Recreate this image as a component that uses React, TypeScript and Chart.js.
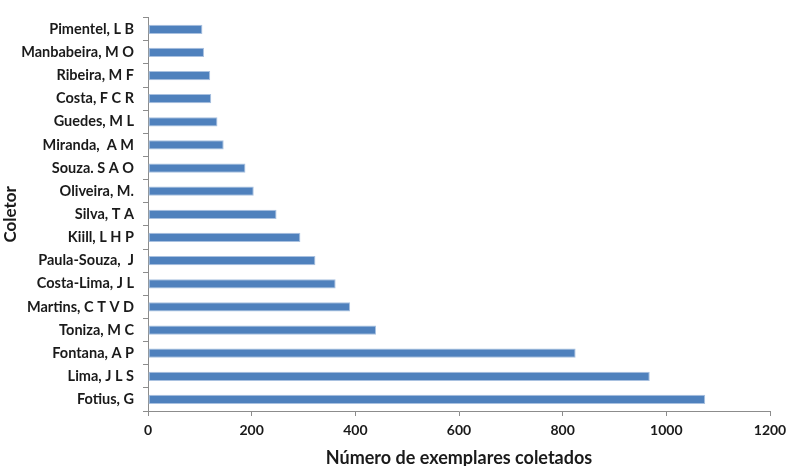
import React, { useEffect, useRef } from "react";
import { Chart, registerables } from "chart.js";

Chart.register(...registerables);

const collectors = [
  "Pimentel, L B",
  "Manbabeira, M O",
  "Ribeira, M F",
  "Costa, F C R",
  "Guedes, M L",
  "Miranda,  A M",
  "Souza. S A O",
  "Oliveira, M.",
  "Silva, T A",
  "Kiill, L H P",
  "Paula-Souza,  J",
  "Costa-Lima, J L",
  "Martins, C T V D",
  "Toniza, M C",
  "Fontana, A P",
  "Lima, J L S",
  "Fotius, G",
];

const specimens = [105, 108, 120, 122, 134, 146, 188, 204, 248, 294, 323, 362, 390, 440, 825, 968, 1075];

const xTitle = "Número de exemplares coletados";
const yTitle = "Coletor";

export default function App() {
  const canvasRef = useRef<HTMLCanvasElement | null>(null);

  useEffect(() => {
    document.body.style.margin = "0";
    const canvas = canvasRef.current;
    if (!canvas) return;
    const font = "Lato, 'Open Sans', sans-serif";
    const axisColor = "#8c8c8c";
    const textColor = "#1a1a1a";
    const chart = new Chart(canvas, {
      type: "bar",
      data: {
        labels: collectors,
        datasets: [
          {
            data: specimens,
            backgroundColor: "#4f81bd",
            borderColor: "#a9c1e0",
            borderWidth: 1,
            borderSkipped: false,
            categoryPercentage: 1,
            barPercentage: 0.4,
          },
        ],
      },
      options: {
        indexAxis: "y",
        animation: false,
        responsive: false,
        maintainAspectRatio: false,
        layout: { padding: { top: 10, right: 0, left: 0, bottom: 0 } },
        plugins: { legend: { display: false }, tooltip: { enabled: false } },
        scales: {
          x: {
            min: 0,
            max: 1200,
            ticks: {
              stepSize: 200,
              color: textColor,
              font: { family: font, size: 14, weight: "bold" },
              padding: 6,
              callback: (v: any) => String(v),
            },
            grid: {
              drawOnChartArea: false,
              drawTicks: true,
              tickLength: 5,
              color: axisColor,
            },
            border: { color: axisColor, width: 1 },
            title: {
              display: true,
              text: xTitle,
              color: textColor,
              font: { family: font, size: 18, weight: "bold" },
              padding: { top: 8, bottom: -3 },
            },
            afterFit: (scale: any) => {
              scale.height = 55;
              scale.paddingRight = 20;
            },
          },
          y: {
            ticks: {
              color: textColor,
              font: { family: font, size: 14.5, weight: "bold" },
              padding: 9,
              autoSkip: false,
            },
            grid: {
              drawOnChartArea: false,
              drawTicks: true,
              tickLength: 5,
              color: axisColor,
            },
            border: { color: axisColor, width: 1 },
            title: {
              display: true,
              text: yTitle,
              color: textColor,
              font: { family: font, size: 17, weight: "bold" },
              padding: { top: 0, bottom: 0 },
            },
            afterFit: (scale: any) => {
              scale.width = 148;
            },
          },
        },
      },
    });
    return () => chart.destroy();
  }, []);

  return (
    <div style={{ position: "absolute", left: 0, top: 0, width: 790, height: 466, background: "#fff" }}>
      <canvas ref={canvasRef} width={790} height={466} style={{ width: 790, height: 466 }} />
    </div>
  );
}
